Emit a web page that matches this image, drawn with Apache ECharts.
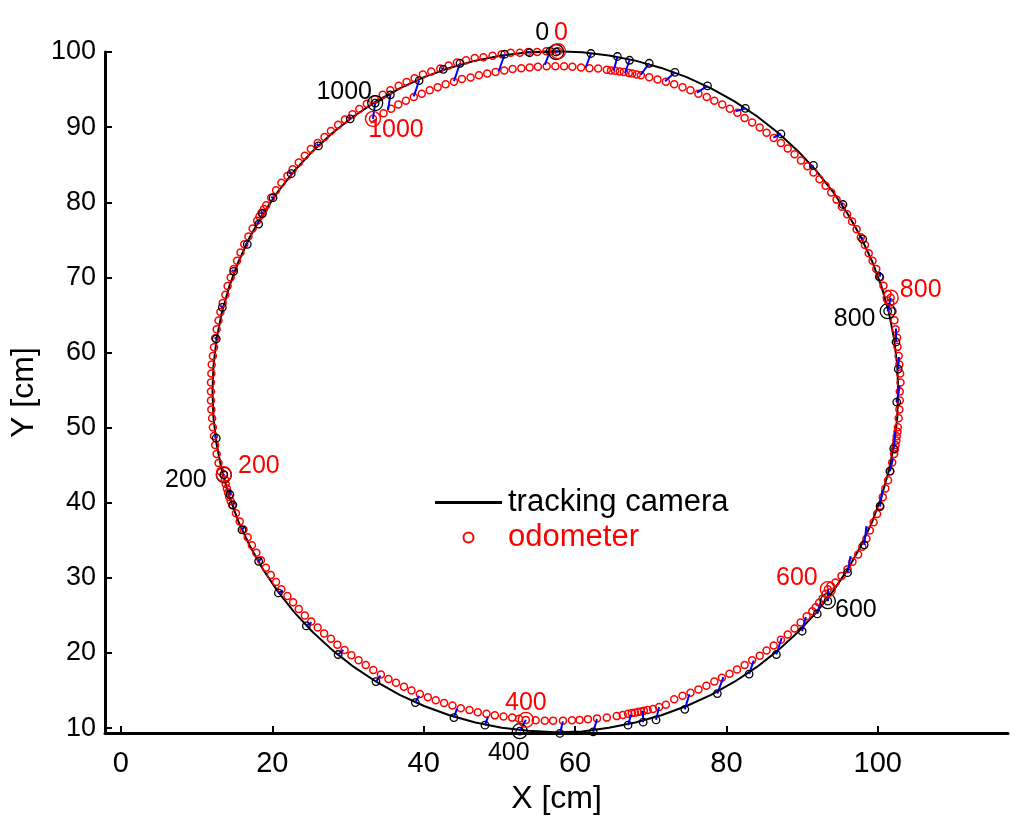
<!DOCTYPE html>
<html><head><meta charset="utf-8">
<script src="https://cdn.jsdelivr.net/npm/echarts@6/dist/echarts.min.js"></script>
<style>html,body{margin:0;padding:0;background:#fff}#c{width:1024px;height:820px}</style>
</head><body><div id="c"></div>
<script>
// ---------- DATA (in cm) ----------
const xTicks = [0, 20, 40, 60, 80, 100];
const yTicks = [10, 20, 30, 40, 50, 60, 70, 80, 90, 100];

// tracking camera trajectory (sample 0 -> 1000, counter-clockwise)
const cameraPath = [
[57.5,100.0],[53.84,99.96],[50.32,99.54],[46.83,98.85],[43.40,97.88],[40.06,96.65],[36.83,95.16],[33.73,93.42],[30.77,91.45],[27.98,89.25],[25.37,86.83],[22.95,84.22],[20.75,81.43],[18.78,78.47],[17.04,75.37],[15.55,72.14],[14.32,68.80],[13.35,65.37],[12.66,61.88],[12.24,58.36],[12.10,54.80],
[12.24,51.24],[12.66,47.72],[13.35,44.23],[14.32,40.80],[15.55,37.46],[17.04,34.23],[18.78,31.13],[20.75,28.17],[22.95,25.38],[25.37,22.77],[27.98,20.35],[30.77,18.15],[33.73,16.18],[36.83,14.44],[40.06,12.95],[43.40,11.72],[46.83,10.75],[50.32,10.06],[53.84,9.64],[57.4,9.45],
[60.96,9.55],[64.48,10.06],[67.97,10.75],[71.40,11.72],[74.74,12.95],[77.97,14.44],[81.07,16.18],[84.03,18.15],[86.82,20.35],[89.43,22.77],[91.85,25.38],[94.05,28.17],[96.02,31.13],[97.76,34.23],[99.25,37.46],[100.48,40.80],[101.45,44.23],[102.14,47.72],[102.56,51.24],[102.70,54.80],
[102.56,58.36],[102.14,61.88],[101.45,65.37],[100.48,68.80],[99.25,72.14],[97.76,75.37],[96.02,78.47],[94.05,81.43],[91.85,84.22],[89.43,86.83],[86.82,89.25],[84.03,91.45],[81.07,93.42],[77.97,95.16],[74.74,96.65],[71.40,97.88],[67.97,98.85],[64.48,99.54],[60.96,99.96],[57.4,100.1],
[53.84,99.96],[50.32,99.54],[46.83,98.85],[43.40,97.88],[40.06,96.65],[36.83,95.16],[33.6,93.2]
];

// odometer estimates (every plotted sample)
const odometer = [
[57.75,100.1],[56.2,100.1],[55.0,100.0],[53.8,100.0],[52.7,99.9],[51.5,99.9],[50.3,99.7],[49.1,99.5],[47.9,99.3],[46.75,99.2],[45.6,98.9],[44.4,98.6],[43.3,98.2],[42.2,97.8],[41.0,97.4],[39.9,97.0],[38.8,96.5],[37.75,96.0],[36.7,95.5],[35.6,94.9],[34.6,94.3],[33.55,93.7],[32.5,93.1],[31.5,92.4],[30.6,91.7],[29.6,91.0],[28.7,90.3],[27.75,89.5],[26.9,88.7],[26.0,87.9],[25.1,87.1],[24.3,86.2],[23.5,85.3],[22.7,84.4],[22.0,83.5],[21.2,82.6],[20.5,81.6],[19.85,80.6],[19.2,79.6],[18.9,79.1],[18.6,78.6],[18.3,78.1],[18.0,77.55],[17.4,76.5],[16.85,75.45],[16.3,74.4],[15.8,73.3],[15.35,72.2],[14.9,71.1],[14.5,70.0],[14.1,68.85],[13.8,67.7],[13.45,66.6],[13.15,65.4],[12.9,64.25],[12.65,63.1],[12.45,61.9],[12.3,60.7],[12.15,59.55],[12.0,58.4],[11.95,57.2],[11.9,56.0],[11.9,54.8],
[11.9,53.6],[11.95,52.4],[12.05,51.25],[12.15,50.05],[12.3,48.9],[12.45,47.7],[12.65,46.5],[12.9,45.3],[13.15,44.2],[13.6,43.8],[13.75,43.1],[13.85,42.5],[14.0,41.9],[14.15,41.35],[14.3,40.8],[14.5,40.25],[14.7,39.7],[15.2,38.6],[15.7,37.5],[16.2,36.45],[16.75,35.4],[17.3,34.35],[17.9,33.35],[18.5,32.35],[19.15,31.35],[19.8,30.4],[20.5,29.45],[21.2,28.5],[22.0,27.6],[22.75,26.75],[23.5,25.85],[24.3,25.0],[25.15,24.2],[26.0,23.4],[26.85,22.6],[27.75,21.9],[28.6,21.1],[29.55,20.4],[30.45,19.7],[31.4,19.05],[32.35,18.4],[33.35,17.75],[34.35,17.15],[35.35,16.55],[36.35,16.05],[37.4,15.5],[38.4,15.0],[39.5,14.55],[40.55,14.1],[41.6,13.7],[42.7,13.35],[43.8,13.0],[44.9,12.65],[46.05,12.4],[47.15,12.1],[48.3,11.9],[49.4,11.7],[50.55,11.55],[51.7,11.4],[52.6,11.25],[53.5,11.1],
[54.8,11.05],[56.0,11.0],[57.1,11.0],[58.4,11.0],[59.6,11.05],[60.6,11.1],[61.7,11.2],[62.9,11.3],[64.2,11.4],[65.5,11.6],[66.3,11.75],[67.0,11.9],[67.5,12.0],[67.9,12.05],[68.3,12.15],[68.7,12.2],[69.1,12.3],[69.6,12.4],[70.3,12.55],[71.1,12.8],[72.0,13.1],
[73.1,13.85],[74.2,14.3],[75.25,14.7],[76.3,15.15],[77.35,15.65],[78.4,16.2],[79.4,16.7],[80.4,17.25],[81.4,17.8],[82.4,18.4],[83.4,19.05],[84.4,19.65],[85.3,20.35],[86.25,21.0],[87.2,21.75],[88.1,22.45],[89.0,23.25],[89.8,24.05],[90.6,24.9],
[91.35,25.55],[91.8,26.1],[92.25,26.7],[92.7,27.25],[93.1,27.9],[93.4,28.5],[93.75,28.95],
[94.4,29.4],[95.2,30.25],[96.0,31.15],[96.65,32.15],[97.4,33.1],[97.95,34.15],[98.5,35.2],[98.95,36.3],[99.45,37.4],[99.9,38.5],[100.3,39.6],[100.65,40.75],[101.0,41.9],[101.35,43.0],[101.65,44.2],[101.9,45.35],[102.15,46.5],[102.25,47.1],[102.35,47.7],[102.45,48.3],[102.5,48.85],[102.6,49.45],[102.65,50.05],[102.75,51.25],[102.85,52.4],[102.9,53.6],[102.9,54.8],
[103.0,56.0],[102.95,57.2],[102.85,58.4],[102.75,59.55],[102.6,60.75],[102.55,61.95],[102.35,63.1],[102.2,64.3],[101.95,65.5],[101.65,66.65],[101.7,67.3],[101.3,67.8],[100.75,68.9],[100.3,70.0],[99.8,71.1],[99.3,72.2],[98.8,73.2],[98.3,74.3],[97.75,75.35],[97.2,76.4],[96.6,77.45],[95.95,78.4],[95.25,79.4],[94.55,80.35],[93.85,81.3],[93.1,82.2],[92.3,83.05],[91.5,83.95],[90.7,84.8],[89.85,85.55],[89.0,86.4],[88.1,87.15],[87.2,87.9],[86.25,88.55],[85.3,89.25],[84.4,89.95],[83.4,90.6],[82.4,91.2],[81.45,91.9],[80.45,92.45],[79.45,93.0],[78.4,93.5],[77.4,94.0],[76.3,94.45],[75.25,94.9],[74.2,95.3],[73.1,95.7],[72.0,96.05],[70.9,96.35],[69.8,96.65],[68.7,96.9],[68.15,97.0],[67.55,97.15],[67.1,97.2],[66.45,97.35],[65.9,97.4],[65.3,97.5],[64.75,97.55],[64.2,97.65],[63.05,97.8],[61.9,97.85],[60.8,97.95],[59.65,98.05],[58.55,98.1],[57.4,98.1],
[56.25,98.1],[55.1,98.05],[54.0,97.95],[52.9,97.85],[51.75,97.75],[50.65,97.55],[49.5,97.35],[48.4,97.15],[47.3,96.9],[46.2,96.6],[45.05,96.4],[44.0,96.05],[42.9,95.7],[41.85,95.3],[40.8,94.9],[39.75,94.45],[38.7,94.0],[37.65,93.5],[36.65,93.0],[35.7,92.45],[34.7,91.85],[33.3,91.1]
];

// camera samples that are matched to an odometer sample (blue connectors)
const cameraMarkers = [
[54.0,99.9],[42.6,97.7],[30.3,91.1],[26.1,87.5],[22.5,83.8],[20.1,80.6],[18.7,78.5],[18.2,77.1],[16.7,74.4],[14.9,70.8],[13.4,66.0],[12.6,61.8],[12.6,48.6],
[14.4,41.1],[14.8,39.7],[16.0,36.4],[18.2,32.2],[20.8,28.0],[24.5,23.6],[28.7,19.8],[33.7,16.2],[38.9,13.4],[44.0,11.4],[48.1,10.4],
[58.0,9.3],[62.4,9.5],[67.0,10.4],[69.0,10.8],[70.7,11.1],[74.5,12.5],[78.8,14.6],[83.0,17.2],[86.6,19.8],[90.0,22.9],[92.0,25.2],
[96.0,30.7],[98.2,34.4],[100.3,39.5],[101.6,44.2],[102.1,47.2],[102.5,53.4],[102.7,57.8],[102.4,61.4],
[100.2,70.1],[98.0,75.1],[95.4,79.7],[91.5,84.9],[87.2,89.1],[82.5,92.5],[77.5,95.5],[73.2,97.3],[69.8,98.5],[67.2,98.9],[65.6,99.4],[62.1,99.8],[56.7,100.1],[50.7,99.7],[44.8,98.5],[39.4,96.2],[35.6,94.3]
];
const odometerMatches = [
[53.8,100.0],[42.3,97.9],[30.1,91.4],[25.9,87.8],[22.2,84.0],[19.85,80.7],[18.5,78.7],[18.0,77.4],[16.5,74.6],[14.7,71.0],[13.2,66.2],[12.4,62.0],[12.4,48.9],
[14.4,41.8],[15.0,40.0],[16.4,36.9],[18.6,32.7],[21.4,28.3],[25.2,24.1],[29.4,20.4],[34.3,17.0],[39.4,14.3],[44.4,12.6],[48.5,11.5],
[58.4,10.9],[62.9,11.2],[67.4,11.8],[69.0,12.3],[71.1,12.8],[75.1,14.5],[79.6,16.8],[83.6,19.0],[87.3,22.0],[90.5,24.8],[92.4,26.7],
[96.4,32.9],[98.5,36.9],[100.6,41.7],[102.0,45.9],[102.3,49.5],[102.9,55.6],[102.8,59.4],[102.4,63.2],
[100.2,70.7],[97.9,75.3],[95.2,79.9],[91.0,84.6],[86.2,88.6],[81.2,92.1],[76.1,94.6],[71.9,96.1],[68.7,97.0],[66.6,97.2],[65.1,97.5],[61.4,97.9],[56.0,98.3],[49.9,97.4],[44.0,96.1],[38.7,94.1],[35.3,92.3]
];

// sample-number milestones
const milestoneLabels = ['0', '200', '400', '600', '800', '1000'];
const cameraMilestones = [[57.5,100.0],[13.6,43.7],[52.7,9.6],[93.4,26.9],[101.3,65.5],[33.6,93.2]];
const odometerMilestones = [[57.75,100.1],[13.6,43.8],[53.5,11.1],[93.4,28.5],[101.7,67.3],[33.3,91.1]];

// ---------- LAYOUT / STYLE ----------
const camLabelOffset = [[-14,-19],[-38,5],[-11,22],[28,9],[-33,8],[-31,-11]];
const odoLabelOffset = [[3,-18],[35,-8],[0,-17],[-31,-11],[30,-8],[23,11]];
const FONT = 'Liberation Sans, Arial, Helvetica, sans-serif';

const connectors = cameraMarkers.map((c, i) => ({ coords: [c, odometerMatches[i]] }))
  .concat(cameraMilestones.map((c, i) => ({ coords: [c, odometerMilestones[i]] })));

const labelStyle = (color, offset, text) => ({
  show: true, position: 'inside', offset: offset, formatter: text,
  color: color, fontSize: 25, fontFamily: FONT, textBorderWidth: 0, textBorderColor: 'transparent'
});

const chart = echarts.init(document.getElementById('c'), null, { renderer: 'canvas' });
chart.setOption({
  animation: false,
  backgroundColor: '#fff',
  grid: { left: 105, right: 16, top: 52, bottom: 84 },
  xAxis: {
    type: 'value', min: -2.1, max: 117.2,
    axisLine: { show: true, onZero: false, lineStyle: { color: '#000', width: 3 } },
    axisTick: { show: true, inside: true, length: 7, customValues: xTicks, lineStyle: { color: '#000', width: 2 } },
    axisLabel: { customValues: xTicks, color: '#000', fontSize: 29, fontFamily: FONT, margin: 16 },
    splitLine: { show: false },
    name: 'X [cm]', nameLocation: 'middle', nameGap: 31,
    nameTextStyle: { color: '#000', fontSize: 32, fontFamily: FONT }
  },
  yAxis: {
    type: 'value', min: 9.34, max: 100,
    axisLine: { show: true, onZero: false, lineStyle: { color: '#000', width: 3 } },
    axisTick: { show: true, inside: true, length: 7, customValues: yTicks, lineStyle: { color: '#000', width: 2 } },
    axisLabel: { customValues: yTicks, color: '#000', fontSize: 27, fontFamily: FONT, margin: 9 },
    splitLine: { show: false },
    name: 'Y [cm]', nameLocation: 'middle', nameGap: 55,
    nameTextStyle: { color: '#000', fontSize: 32, fontFamily: FONT }
  },
  legend: {
    orient: 'vertical', left: 430, top: 482, itemWidth: 67, itemHeight: 10, itemGap: 4,
    textStyle: { fontSize: 31, fontFamily: FONT, color: '#000', padding: [0, 0, 0, 1] },
    data: [
      { name: 'tracking camera', icon: 'path://M0 0H67V3H0Z', itemStyle: { color: '#000', opacity: 1 } },
      { name: 'odometer', textStyle: { color: '#ff0000' }, itemStyle: { opacity: 1 } }
    ]
  },
  series: [
    {
      name: 'tracking camera', type: 'line', data: cameraPath, showSymbol: false, symbol: 'none',
      clip: false, lineStyle: { color: '#000', width: 2 }, itemStyle: { color: '#000' }, z: 2
    },
    {
      name: 'odometer', type: 'scatter', data: odometer, symbol: 'circle', symbolSize: 7, clip: false,
      itemStyle: { color: 'rgba(0,0,0,0)', borderColor: '#ff0000', borderWidth: 1.5, opacity: 1 }, z: 3
    },
    {
      type: 'lines', coordinateSystem: 'cartesian2d', data: connectors, clip: false,
      lineStyle: { color: '#0000ff', width: 2, opacity: 1 }, z: 4, silent: true
    },
    {
      type: 'scatter', data: cameraMarkers.concat(cameraMilestones), symbol: 'circle', symbolSize: 7.5, clip: false,
      itemStyle: { color: 'rgba(0,0,0,0)', borderColor: '#000', borderWidth: 1.3, opacity: 1 }, z: 5
    },
    {
      type: 'scatter', clip: false, symbol: 'circle', symbolSize: 15, z: 6,
      itemStyle: { color: 'rgba(0,0,0,0)', borderColor: '#000', borderWidth: 1.3, opacity: 1 },
      data: cameraMilestones.map((p, i) => ({
        value: p, name: milestoneLabels[i],
        label: labelStyle('#000000', camLabelOffset[i], milestoneLabels[i])
      }))
    },
    {
      type: 'scatter', clip: false, symbol: 'circle', symbolSize: 15, z: 6,
      itemStyle: { color: 'rgba(0,0,0,0)', borderColor: '#ff0000', borderWidth: 1.4, opacity: 1 },
      data: odometerMilestones.map((p, i) => ({
        value: p, name: milestoneLabels[i],
        label: labelStyle('#ff0000', odoLabelOffset[i], milestoneLabels[i])
      }))
    }
  ]
});
</script>
</body></html>
